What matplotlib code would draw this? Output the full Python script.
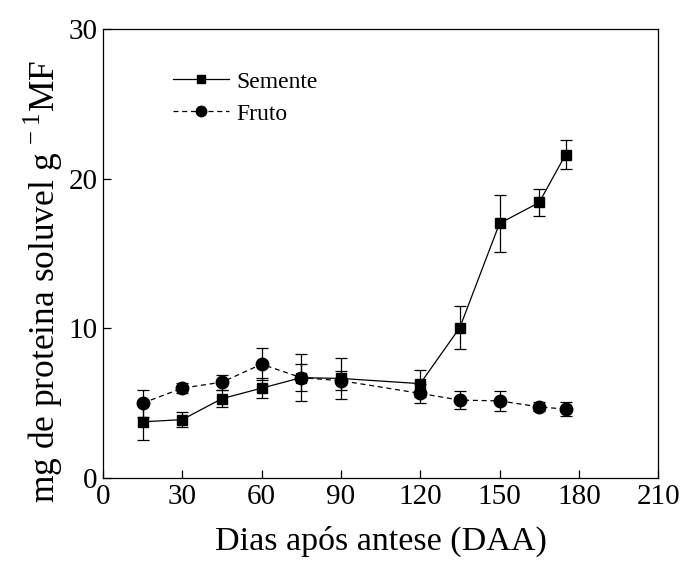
import numpy as np
import matplotlib.pyplot as plt
from matplotlib.lines import Line2D

plt.rcParams['font.family'] = 'Liberation Serif'
plt.rcParams['mathtext.fontset'] = 'custom'
plt.rcParams['mathtext.rm'] = 'Liberation Serif'

# dados
dias = [15, 30, 45, 60, 75, 90, 120, 135, 150, 165, 175]
semente = [3.75, 3.9, 5.3, 6.0, 6.7, 6.65, 6.3, 10.05, 17.0, 18.4, 21.6]
semente_err = [1.2, 0.5, 0.55, 0.65, 1.55, 1.35, 0.9, 1.45, 1.9, 0.9, 0.95]
fruto = [5.0, 6.0, 6.4, 7.6, 6.7, 6.5, 5.65, 5.2, 5.15, 4.75, 4.6]
fruto_err = [0.9, 0.35, 0.5, 1.05, 0.9, 0.65, 0.65, 0.6, 0.65, 0.3, 0.45]

fig = plt.figure(figsize=(6.82, 5.65), dpi=100)
ax = fig.add_axes([0.151, 0.154, 0.814, 0.795])

dash = (0, (4, 3))
ax.errorbar(dias, semente, yerr=semente_err, color='black', lw=0.9,
            marker='s', ms=6.5, capsize=4, elinewidth=0.9, capthick=0.9)
ax.errorbar(dias, fruto, yerr=fruto_err, color='black', lw=0.9,
            ls=dash, marker='o', ms=9, capsize=4, elinewidth=0.9,
            capthick=0.9)

ax.set_xlim(0, 210)
ax.set_ylim(0, 30)
ax.set_xticks(np.arange(0, 211, 30))
ax.set_yticks([0, 10, 20, 30])
ax.tick_params(direction='in', length=6, width=0.9, labelsize=21, pad=4)
for s in ax.spines.values():
    s.set_linewidth(0.9)

ax.set_xlabel('Dias após antese (DAA)', fontsize=24.5, labelpad=12)
ax.set_ylabel(r'mg de proteina soluvel g$^{\,-1}$MF', fontsize=25.5)
ax.yaxis.set_label_coords(-0.068, 0.4365)

# legenda sem barras de erro
handles = [Line2D([], [], color='black', lw=0.9, marker='s', ms=6),
           Line2D([], [], color='black', lw=0.9, ls=dash, marker='o', ms=7.5)]
ax.legend(handles, ['Semente', 'Fruto'], loc='upper left',
          bbox_to_anchor=(0.126, 0.906), frameon=False, fontsize=17,
          handlelength=2.37, handletextpad=0.3, labelspacing=0.45,
          borderaxespad=0, borderpad=0)

fig.savefig('out.png', dpi=100)
